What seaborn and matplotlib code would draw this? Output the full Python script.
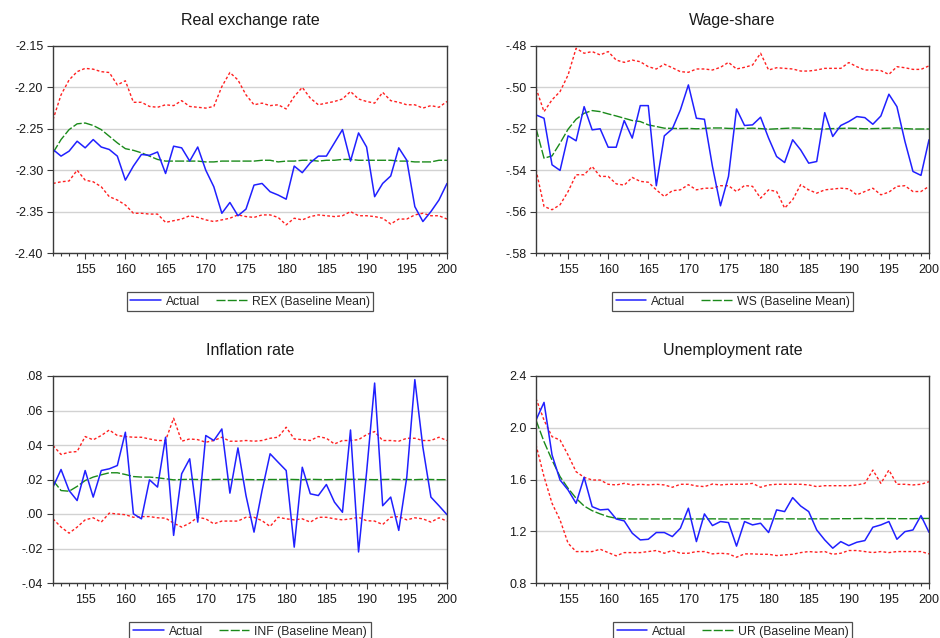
import matplotlib
matplotlib.use("Agg")
import matplotlib.pyplot as plt
from matplotlib.ticker import FuncFormatter, MultipleLocator
import numpy as np
import pandas as pd
import seaborn as sns

years = list(range(151, 201))

rex_actual = [-2.275, -2.283, -2.277, -2.265, -2.273, -2.263, -2.272, -2.275, -2.283, -2.312,
              -2.295, -2.281, -2.282, -2.278, -2.304, -2.271, -2.273, -2.289, -2.272, -2.300,
              -2.320, -2.352, -2.339, -2.355, -2.347, -2.318, -2.316, -2.326, -2.330, -2.335,
              -2.295, -2.303, -2.291, -2.283, -2.283, -2.267, -2.251, -2.289, -2.255, -2.272,
              -2.332, -2.316, -2.307, -2.273, -2.288, -2.344, -2.362, -2.350, -2.336, -2.316]
rex_mean = [-2.279, -2.263, -2.251, -2.244, -2.243, -2.246, -2.251, -2.259, -2.267, -2.274,
            -2.276, -2.279, -2.283, -2.287, -2.289, -2.289, -2.289, -2.289, -2.289, -2.290,
            -2.290, -2.289, -2.289, -2.289, -2.289, -2.289, -2.288, -2.288, -2.290, -2.289,
            -2.289, -2.288, -2.288, -2.289, -2.288, -2.288, -2.287, -2.287, -2.288, -2.288,
            -2.288, -2.288, -2.288, -2.289, -2.289, -2.290, -2.290, -2.290, -2.288, -2.288]
rex_upper = [-2.239, -2.209, -2.191, -2.181, -2.177, -2.178, -2.181, -2.182, -2.197, -2.192,
             -2.218, -2.218, -2.223, -2.224, -2.221, -2.222, -2.216, -2.223, -2.224, -2.225,
             -2.223, -2.199, -2.182, -2.191, -2.209, -2.221, -2.219, -2.222, -2.221, -2.226,
             -2.211, -2.200, -2.213, -2.221, -2.219, -2.217, -2.214, -2.205, -2.214, -2.217,
             -2.219, -2.206, -2.216, -2.218, -2.221, -2.221, -2.225, -2.222, -2.224, -2.217]
rex_lower = [-2.316, -2.314, -2.313, -2.300, -2.312, -2.314, -2.320, -2.332, -2.336, -2.342,
             -2.352, -2.352, -2.353, -2.353, -2.363, -2.361, -2.359, -2.355, -2.357, -2.360,
             -2.362, -2.360, -2.358, -2.354, -2.356, -2.357, -2.354, -2.354, -2.357, -2.366,
             -2.358, -2.360, -2.356, -2.354, -2.355, -2.356, -2.355, -2.350, -2.355, -2.355,
             -2.356, -2.358, -2.365, -2.359, -2.359, -2.354, -2.352, -2.355, -2.355, -2.359]

ws_actual = [-0.5133, -0.5149, -0.5374, -0.5401, -0.5234, -0.5258, -0.5093, -0.5205, -0.5200, -0.5289,
             -0.5289, -0.5160, -0.5245, -0.5088, -0.5088, -0.5475, -0.5234, -0.5200, -0.5109, -0.4988,
             -0.5149, -0.5154, -0.5382, -0.5572, -0.5430, -0.5104, -0.5184, -0.5181, -0.5144, -0.5245,
             -0.5334, -0.5363, -0.5253, -0.5302, -0.5366, -0.5358, -0.5122, -0.5237, -0.5184, -0.5165,
             -0.5141, -0.5146, -0.5178, -0.5138, -0.5033, -0.5093, -0.5261, -0.5406, -0.5425, -0.5253]
ws_mean = [-0.5197, -0.5342, -0.5331, -0.5269, -0.5202, -0.5154, -0.5125, -0.5112, -0.5117, -0.5128,
           -0.5138, -0.5149, -0.5160, -0.5165, -0.5181, -0.5189, -0.5197, -0.5198, -0.5199, -0.5198,
           -0.5200, -0.5198, -0.5196, -0.5196, -0.5198, -0.5199, -0.5198, -0.5197, -0.5199, -0.5202,
           -0.5200, -0.5198, -0.5196, -0.5197, -0.5199, -0.5201, -0.5201, -0.5199, -0.5198, -0.5197,
           -0.5198, -0.5200, -0.5199, -0.5198, -0.5197, -0.5196, -0.5199, -0.5201, -0.5201, -0.5201]
ws_upper = [-0.5004, -0.5117, -0.5060, -0.5020, -0.4940, -0.4811, -0.4835, -0.4827, -0.4843, -0.4827,
            -0.4868, -0.4879, -0.4868, -0.4876, -0.4900, -0.4911, -0.4888, -0.4905, -0.4924, -0.4927,
            -0.4911, -0.4911, -0.4916, -0.4903, -0.4879, -0.4911, -0.4903, -0.4892, -0.4835, -0.4916,
            -0.4905, -0.4908, -0.4911, -0.4921, -0.4921, -0.4916, -0.4908, -0.4908, -0.4908, -0.4880,
            -0.4900, -0.4916, -0.4916, -0.4919, -0.4937, -0.4900, -0.4905, -0.4913, -0.4913, -0.4896]
ws_lower = [-0.5398, -0.5575, -0.5591, -0.5567, -0.5503, -0.5422, -0.5422, -0.5382, -0.5430, -0.5430,
            -0.5466, -0.5472, -0.5435, -0.5454, -0.5458, -0.5495, -0.5527, -0.5499, -0.5495, -0.5470,
            -0.5495, -0.5487, -0.5487, -0.5475, -0.5475, -0.5503, -0.5474, -0.5478, -0.5535, -0.5495,
            -0.5503, -0.5583, -0.5543, -0.5470, -0.5495, -0.5511, -0.5495, -0.5491, -0.5487, -0.5490,
            -0.5519, -0.5503, -0.5487, -0.5519, -0.5506, -0.5478, -0.5475, -0.5503, -0.5503, -0.5478]

inf_actual = [0.0156, 0.0258, 0.0136, 0.0078, 0.0252, 0.0098, 0.0252, 0.0262, 0.0281, 0.0474,
              0.0001, -0.0028, 0.0198, 0.0156, 0.0445, -0.0124, 0.0233, 0.0320, -0.0047, 0.0455,
              0.0426, 0.0493, 0.0121, 0.0383, 0.0107, -0.0105, 0.0136, 0.0349, 0.0300, 0.0252,
              -0.0192, 0.0271, 0.0117, 0.0107, 0.0171, 0.0069, 0.0010, 0.0487, -0.0220, 0.0242,
              0.0759, 0.0048, 0.0098, -0.0095, 0.0214, 0.0779, 0.0387, 0.0098, 0.0048, -0.0004]
inf_mean = [0.0195, 0.0136, 0.0132, 0.0160, 0.0194, 0.0214, 0.0227, 0.0239, 0.0239, 0.0229,
            0.0217, 0.0214, 0.0214, 0.0210, 0.0204, 0.0198, 0.0200, 0.0201, 0.0200, 0.0199,
            0.0200, 0.0201, 0.0200, 0.0201, 0.0200, 0.0199, 0.0199, 0.0200, 0.0200, 0.0201,
            0.0200, 0.0199, 0.0201, 0.0200, 0.0199, 0.0200, 0.0201, 0.0201, 0.0201, 0.0200,
            0.0199, 0.0200, 0.0201, 0.0200, 0.0200, 0.0199, 0.0201, 0.0200, 0.0199, 0.0199]
inf_upper = [0.0397, 0.0345, 0.0358, 0.0362, 0.0449, 0.0430, 0.0455, 0.0487, 0.0455, 0.0449,
             0.0445, 0.0445, 0.0435, 0.0426, 0.0426, 0.0555, 0.0422, 0.0435, 0.0431, 0.0416,
             0.0426, 0.0445, 0.0422, 0.0422, 0.0426, 0.0422, 0.0426, 0.0439, 0.0445, 0.0503,
             0.0435, 0.0431, 0.0426, 0.0449, 0.0439, 0.0406, 0.0426, 0.0426, 0.0431, 0.0460,
             0.0478, 0.0426, 0.0426, 0.0422, 0.0439, 0.0439, 0.0426, 0.0426, 0.0445, 0.0426]
inf_lower = [-0.0028, -0.0076, -0.0111, -0.0076, -0.0034, -0.0022, -0.0047, 0.0005, 0.0000, -0.0004,
             -0.0019, -0.0015, -0.0015, -0.0022, -0.0024, -0.0053, -0.0076, -0.0053, -0.0019, -0.0028,
             -0.0057, -0.0041, -0.0041, -0.0041, -0.0019, -0.0019, -0.0039, -0.0072, -0.0019, -0.0028,
             -0.0034, -0.0028, -0.0047, -0.0019, -0.0019, -0.0028, -0.0034, -0.0028, -0.0019, -0.0039,
             -0.0041, -0.0061, -0.0019, -0.0015, -0.0034, -0.0022, -0.0028, -0.0047, -0.0022, -0.0041]

ur_actual = [2.059, 2.196, 1.790, 1.596, 1.519, 1.416, 1.617, 1.390, 1.365, 1.370,
             1.295, 1.280, 1.185, 1.133, 1.138, 1.190, 1.190, 1.159, 1.223, 1.378,
             1.120, 1.334, 1.244, 1.275, 1.267, 1.085, 1.275, 1.249, 1.262, 1.190,
             1.365, 1.352, 1.460, 1.395, 1.352, 1.210, 1.133, 1.069, 1.120, 1.089,
             1.115, 1.128, 1.231, 1.249, 1.275, 1.138, 1.197, 1.210, 1.321, 1.192]
ur_mean = [2.059, 1.892, 1.750, 1.622, 1.532, 1.455, 1.395, 1.359, 1.334, 1.313,
           1.300, 1.296, 1.295, 1.295, 1.295, 1.295, 1.295, 1.296, 1.295, 1.295,
           1.295, 1.295, 1.296, 1.295, 1.295, 1.295, 1.296, 1.296, 1.295, 1.295,
           1.296, 1.296, 1.296, 1.295, 1.296, 1.296, 1.296, 1.296, 1.297, 1.297,
           1.298, 1.299, 1.297, 1.298, 1.298, 1.297, 1.297, 1.297, 1.299, 1.299]
ur_upper = [2.226, 2.059, 1.931, 1.905, 1.789, 1.660, 1.617, 1.596, 1.596, 1.563,
            1.558, 1.570, 1.558, 1.563, 1.558, 1.563, 1.558, 1.540, 1.563, 1.563,
            1.550, 1.545, 1.565, 1.558, 1.563, 1.563, 1.563, 1.570, 1.540, 1.558,
            1.563, 1.563, 1.563, 1.563, 1.558, 1.545, 1.552, 1.552, 1.552, 1.552,
            1.558, 1.570, 1.673, 1.570, 1.673, 1.563, 1.563, 1.558, 1.563, 1.583]
ur_lower = [1.868, 1.622, 1.416, 1.287, 1.107, 1.043, 1.043, 1.043, 1.061, 1.035,
            1.010, 1.035, 1.035, 1.035, 1.043, 1.051, 1.030, 1.051, 1.030, 1.030,
            1.043, 1.043, 1.025, 1.030, 1.025, 0.999, 1.025, 1.025, 1.022, 1.022,
            1.012, 1.017, 1.022, 1.035, 1.043, 1.038, 1.043, 1.022, 1.030, 1.051,
            1.051, 1.043, 1.035, 1.043, 1.035, 1.043, 1.043, 1.043, 1.043, 1.025]

titles = ["Real exchange rate", "Wage-share", "Inflation rate", "Unemployment rate"]
mean_labels = ["REX (Baseline Mean)", "WS (Baseline Mean)", "INF (Baseline Mean)", "UR (Baseline Mean)"]

sns.set_style("white")
plt.rcParams["font.family"] = ["Liberation Sans", "DejaVu Sans"]

W, H = 940, 638
fig = plt.figure(figsize=(W / 100, H / 100), dpi=100)


def px_axes(left, top, right, bottom):
    return fig.add_axes([left / W, 1 - bottom / H, (right - left) / W, (bottom - top) / H])


def fmt_two(v, _):
    s = f"{v:.2f}"
    return s.replace("0.", ".", 1) if abs(v) < 1 else s


panels = [
    dict(rect=(53, 46, 447, 253), data=(rex_actual, rex_mean, rex_upper, rex_lower),
         ylim=(-2.40, -2.15), step=0.05, fmt=lambda v, _: f"{v:.2f}"),
    dict(rect=(536, 46, 929, 253), data=(ws_actual, ws_mean, ws_upper, ws_lower),
         ylim=(-0.58, -0.48), step=0.02, fmt=fmt_two),
    dict(rect=(53, 376, 447, 583), data=(inf_actual, inf_mean, inf_upper, inf_lower),
         ylim=(-0.04, 0.08), step=0.02, fmt=fmt_two),
    dict(rect=(536, 376, 929, 583), data=(ur_actual, ur_mean, ur_upper, ur_lower),
         ylim=(0.8, 2.4), step=0.4, fmt=lambda v, _: f"{v:.1f}"),
]

frame_col = "#3a3a3a"
for i, p in enumerate(panels):
    ax = px_axes(*p["rect"])
    actual, mean, upper, lower = p["data"]
    df = pd.DataFrame({"year": years, "actual": actual, "mean": mean,
                       "upper": upper, "lower": lower})

    for col in ("upper", "lower"):
        sns.lineplot(data=df, x="year", y=col, ax=ax, color="#ff2020", lw=1.0,
                     linestyle=(0, (2.0, 1.6)), legend=False)
    sns.lineplot(data=df, x="year", y="mean", ax=ax, color="#1a8a1a", lw=1.0,
                 linestyle=(0, (6.5, 1.6)), label=mean_labels[i])
    sns.lineplot(data=df, x="year", y="actual", ax=ax, color="#2020ff", lw=1.1,
                 label="Actual")

    ax.set_xlim(151, 200)
    ax.set_ylim(*p["ylim"])
    lo, hi = p["ylim"]
    nt = int(round((hi - lo) / p["step"]))
    ax.set_yticks([lo + k * p["step"] for k in range(nt + 1)])
    ax.yaxis.set_major_formatter(FuncFormatter(p["fmt"]))
    ax.set_xticks(list(range(155, 201, 5)))
    ax.xaxis.set_minor_locator(MultipleLocator(1))
    ax.set_xlabel("")
    ax.set_ylabel("")
    ax.grid(axis="y", color="#d2d2d2", lw=1.0)
    ax.grid(axis="x", visible=False)
    ax.set_axisbelow(True)
    for s in ax.spines.values():
        s.set_visible(True)
        s.set_color(frame_col)
        s.set_linewidth(1.0)
    ax.tick_params(axis="both", which="major", direction="out", length=4, width=0.8,
                   color=frame_col, labelsize=9, labelcolor="#1a1a1a", pad=3)
    ax.tick_params(axis="x", which="major", pad=4)
    ax.tick_params(axis="x", which="minor", direction="out", length=2.5, width=0.8,
                   color=frame_col)
    ax.tick_params(axis="x", which="both", bottom=True, top=False)
    ax.tick_params(axis="y", which="both", left=True, right=False)
    ax.set_title(titles[i], fontsize=11.5, color="#1a1a1a", pad=15)

    handles, labels = ax.get_legend_handles_labels()
    order = [labels.index("Actual"), labels.index(mean_labels[i])]
    leg = ax.legend([handles[k] for k in order], [labels[k] for k in order],
                    loc="center", bbox_to_anchor=(0.5, -0.235), ncol=2, fontsize=8.8,
                    frameon=True, fancybox=False, edgecolor="#222222",
                    handlelength=2.5, handletextpad=0.4, columnspacing=1.3,
                    borderpad=0.3, borderaxespad=0)
    leg.get_frame().set_linewidth(0.9)

fig.savefig("out.png", dpi=100)
